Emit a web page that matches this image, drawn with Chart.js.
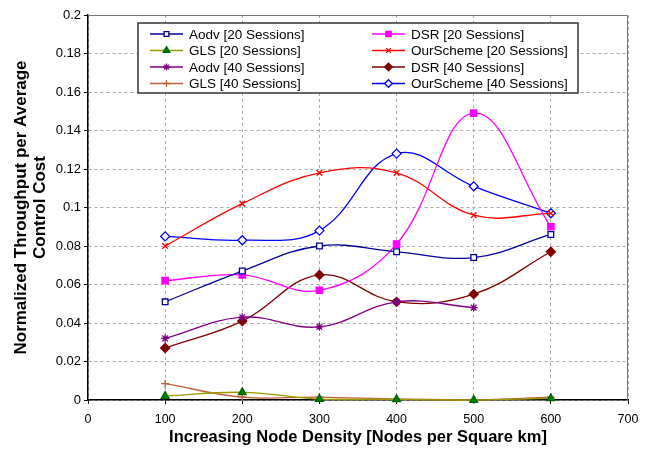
<!DOCTYPE html>
<html>
<head>
<meta charset="utf-8">
<script src="https://cdn.jsdelivr.net/npm/chart.js@4"></script>
<style>
    html, body { margin: 0; padding: 0; background: #fff; }
    #wrap { width: 650px; height: 450px; }
</style>
</head>
<body>
<div id="wrap"><canvas id="chart" width="650" height="450"></canvas></div>
<script>

// node densities (x values)
const densities = [100, 200, 300, 400, 500, 600];

// throughput per control cost, 20 sessions
const aodv20 = [0.051, 0.067, 0.080, 0.077, 0.074, 0.086];
const dsr20 = [0.062, 0.065, 0.057, 0.081, 0.149, 0.090];
const gls20 = [0.002, 0.004, 0.0005, 0.0003, 0, 0.0008];
const ours20 = [0.080, 0.102, 0.118, 0.118, 0.096, 0.097];

// throughput per control cost, 40 sessions
const aodv40 = [0.032, 0.043, 0.038, 0.051, 0.048, null];
const dsr40 = [0.027, 0.041, 0.065, 0.051, 0.055, 0.077];
const gls40 = [0.0085, 0.0015, 0.0015, 0.0005, 0, 0.0015];
const ours40 = [0.085, 0.083, 0.088, 0.128, 0.111, 0.097];

const xTicks = [0, 100, 200, 300, 400, 500, 600, 700];
const yTicks = [0, 0.02, 0.04, 0.06, 0.08, 0.1, 0.12, 0.14, 0.16, 0.18, 0.2];

function pts(values) {
    return densities.map((x, i) => ({ x: x, y: values[i] }));
}

function series(label, values, color, style, fill, radius) {
    return {
        label: label,
        data: pts(values),
        borderColor: color,
        backgroundColor: color,
        borderWidth: 1.3,
        pointStyle: style,
        pointRadius: radius || 4,
        pointBackgroundColor: fill,
        pointBorderColor: style === "triangle" ? "#006400" : color,
        pointBorderWidth: 1.3,
        tension: 0.4,
        clip: false
    };
}

const datasets = [
    series("Aodv [20 Sessions]", aodv20, "#000099", "rect", "#fff", 4),
    series("GLS [20 Sessions]", gls20, "#999900", "triangle", "#008000", 4.5),
    series("Aodv [40 Sessions]", aodv40, "#800080", "star", "#800080", 4),
    series("GLS [40 Sessions]", gls40, "#c0603a", "cross", "#c0603a", 4),
    series("DSR [20 Sessions]", dsr20, "#ff00ff", "rect", "#ff00ff", 4.5),
    series("OurScheme [20 Sessions]", ours20, "#ff0000", "crossRot", "#ff0000", 4),
    series("DSR [40 Sessions]", dsr40, "#800000", "rectRot", "#800000", 4.5),
    series("OurScheme [40 Sessions]", ours40, "#0000ff", "rectRot", "#fff", 4.5)
];

const fontFamily = "'Liberation Sans', Arial, sans-serif";

// boxed legend inside the plot, two columns of four
const boxLegend = {
    id: "boxLegend",
    afterDraw(chart) {
        const ctx = chart.ctx;
        const left = 138, top = 23, w = 440, h = 70;
        ctx.save();
        ctx.fillStyle = "#fff";
        ctx.fillRect(left, top, w, h);
        ctx.strokeStyle = "#333";
        ctx.lineWidth = 1.5;
        ctx.strokeRect(left, top, w, h);
        ctx.font = "13.5px " + fontFamily;
        ctx.textBaseline = "middle";
        chart.data.datasets.forEach((ds, i) => {
            const col = Math.floor(i / 4);
            const row = i % 4;
            const x0 = col === 0 ? 150 : 372;
            const y = 34 + row * 16.5;
            ctx.strokeStyle = ds.borderColor;
            ctx.lineWidth = 1.5;
            ctx.beginPath();
            ctx.moveTo(x0, y);
            ctx.lineTo(x0 + 33, y);
            ctx.stroke();
            ctx.fillStyle = ds.pointBackgroundColor;
            ctx.strokeStyle = ds.pointBorderColor;
            ctx.lineWidth = 1.3;
            Chart.helpers.drawPoint(ctx, {
                pointStyle: ds.pointStyle,
                radius: ds.pointRadius * 0.85,
                rotation: 0,
                borderWidth: 1.3
            }, x0 + 16.5, y);
            ctx.fillStyle = "#000";
            ctx.fillText(ds.label, x0 + 39, y + 1);
        });
        ctx.restore();
    }
};

// grey frame on the top and right of the plot
const plotFrame = {
    id: "plotFrame",
    beforeDatasetsDraw(chart) {
        const a = chart.chartArea;
        const ctx = chart.ctx;
        ctx.save();
        ctx.strokeStyle = "#777";
        ctx.lineWidth = 1;
        ctx.beginPath();
        ctx.moveTo(a.left, a.top + 0.5);
        ctx.lineTo(a.right - 0.5, a.top + 0.5);
        ctx.lineTo(a.right - 0.5, a.bottom);
        ctx.stroke();
        ctx.restore();
    }
};

new Chart(document.getElementById("chart"), {
    type: "line",
    data: { datasets: datasets },
    options: {
        responsive: false,
        animation: false,
        layout: { padding: { top: 15, right: 22, left: 0, bottom: 0 } },
        plugins: {
            legend: { display: false },
            tooltip: { enabled: false }
        },
        scales: {
            x: {
                type: "linear",
                min: 0,
                max: 700,
                afterBuildTicks: scale => {
                    scale.ticks = xTicks.map(v => ({ value: v }));
                },
                afterFit: scale => { scale.height = 50; },
                ticks: {
                    color: "#000",
                    font: { family: fontFamily, size: 12.5 },
                    padding: 8
                },
                grid: {
                    color: "#aaa",
                    tickColor: "#000",
                    tickLength: 4
                },
                border: { color: "#000", width: 1.5, dash: [3, 3] },
                title: {
                    display: true,
                    text: "Increasing Node Density [Nodes per Square km]",
                    color: "#000",
                    font: { family: fontFamily, size: 16.5, weight: "bold", lineHeight: 1.2 },
                    padding: { top: 0, bottom: 3 }
                }
            },
            y: {
                min: 0,
                max: 0.2,
                afterBuildTicks: scale => {
                    scale.ticks = yTicks.map(v => ({ value: v }));
                },
                afterFit: scale => { scale.width = 88; },
                ticks: {
                    color: "#000",
                    font: { family: fontFamily, size: 13 },
                    padding: 3,
                    callback: v => String(+v.toFixed(2))
                },
                grid: {
                    color: "#aaa",
                    tickColor: "#000",
                    tickLength: 4
                },
                border: { color: "#000", width: 1.5, dash: [3, 3] },
                title: {
                    display: true,
                    text: ["Normalized Throughput per Average", "Control Cost"],
                    color: "#000",
                    font: { family: fontFamily, size: 17, weight: "bold", lineHeight: 1.1 },
                    padding: { top: 12, bottom: 2 }
                }
            }
        }
    },
    plugins: [plotFrame, boxLegend]
});
</script>
</body>
</html>
